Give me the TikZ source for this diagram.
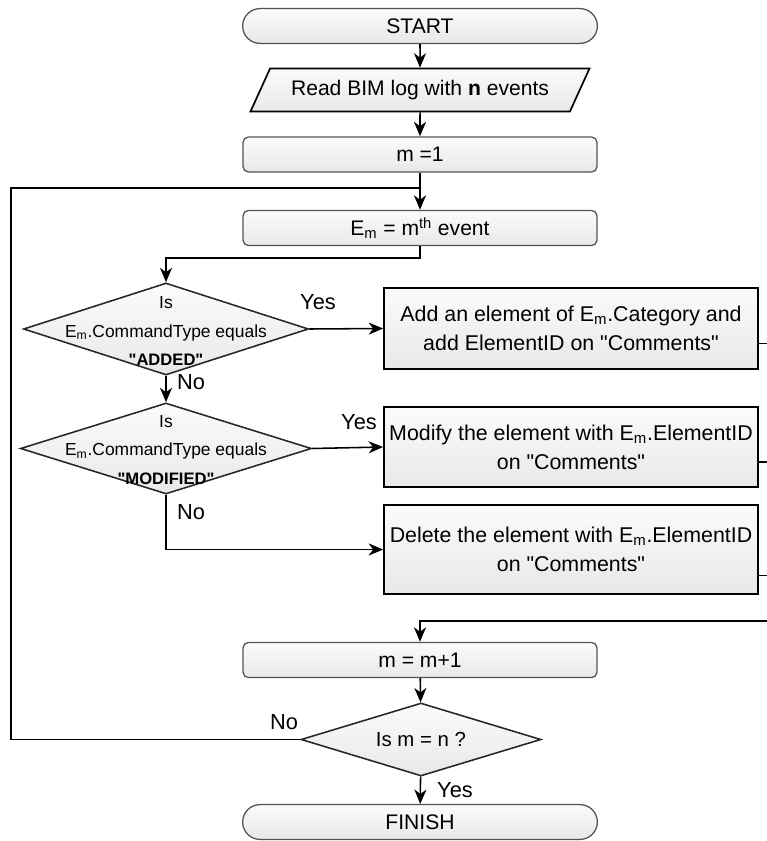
\documentclass[tikz,border=0pt]{standalone}
\usepackage{fontspec}
\setmainfont{Liberation Sans}
\usetikzlibrary{calc, shapes.geometric, shapes.misc, positioning, arrows.meta}
\newcommand{\qt}[1]{\textquotedbl #1\textquotedbl}

\begin{document}
\begin{tikzpicture}[x=0.025cm, y=-0.025cm, line width=1.1pt,
    >={Stealth[length=3.6mm, width=3mm, inset=1.1mm]},
    term/.style={rounded rectangle, draw=gray!65!black, line width=0.9pt,
        top color=gray!3, bottom color=gray!18,
        minimum width=9.1cm, minimum height=0.87cm, font=\fontsize{15}{18}\selectfont},
    proc/.style={rectangle, rounded corners=4pt, draw=gray!65!black, line width=0.9pt,
        top color=gray!3, bottom color=gray!18,
        minimum width=8.85cm, minimum height=0.88cm, font=\fontsize{15}{18}\selectfont},
    act/.style={rectangle, draw=black, line width=1.2pt,
        top color=gray!3, bottom color=gray!18, align=center,
        minimum width=9.35cm, font=\fontsize{15.2}{20.5}\selectfont},
    dec/.style={diamond, draw=black!85, line width=1.1pt, inner sep=0pt,
        top color=gray!3, bottom color=gray!18},
    dectxt/.style={align=center, inner sep=0pt, font=\fontsize{12.4}{20}\selectfont},
    lbl/.style={inner sep=1pt, font=\fontsize{15.5}{18}\selectfont}]
    \useasboundingbox (0,0) rectangle (767,841);

    % 1. Các khối chính
    \node[term] (start) at (420,26) {START};
    \node[trapezium, trapezium left angle=59, trapezium right angle=121,
        trapezium stretches=true, draw=black, line width=1.2pt,
        top color=gray!3, bottom color=gray!18,
        minimum width=8.5cm, minimum height=1.075cm,
        font=\fontsize{15}{18}\selectfont] (read) at (420,90)
        {Read BIM log with \textbf{n} events};
    \node[proc] (m1) at (420,154.5) {m =1};
    \node[proc] (em) at (420,228) {E\textsubscript{m} = m\textsuperscript{th} event};

    % 2. Hai khối điều kiện
    \node[dec, minimum width=7.125cm, minimum height=2.3cm] (d1) at (166,329) {};
    \node[dectxt] (d1t) at (166,331)
        {Is\\E\textsubscript{m}.CommandType equals\\{\fontsize{11.8}{20}\selectfont\bfseries \qt{ADDED}}};
    \node[dec, minimum width=7.275cm, minimum height=2.275cm] (d2) at (166,448.5) {};
    \node[dectxt] (d2t) at (166,450)
        {Is\\E\textsubscript{m}.CommandType equals\\{\fontsize{11.8}{20}\selectfont\bfseries \qt{MODIFIED}}};

    % 3. Các khối xử lý bên phải
    \node[act, minimum height=2.025cm] (a1) at (571,328.5)
        {Add an element of E\textsubscript{m}.Category and\\add ElementID on \qt{Comments}};
    \node[act, minimum height=2cm] (a2) at (571,447)
        {Modify the element with E\textsubscript{m}.ElementID\\on \qt{Comments}};
    \node[act, minimum height=2.225cm] (a3) at (571,549.5)
        {Delete the element with E\textsubscript{m}.ElementID\\on \qt{Comments}};

    % 4. Khối cuối
    \node[proc] (inc) at (420,660) {m = m+1};
    \node[dec, minimum width=6cm, minimum height=1.825cm] (d3) at (421,739.5) {};
    \node[dectxt, font=\fontsize{14.5}{17}\selectfont] (d3t) at (421,739.5) {Is m = n ?};
    \node[term] (fin) at (420,822) {FINISH};

    % 5. Đường nối
    \coordinate (jn) at (m1.south |- 0,188);
    \coordinate (lp) at (11,739.5);
    \coordinate (rt) at (785,621);

    \draw[->] (start) -- (read);
    \draw[->] (read) -- (m1);
    \draw[->] (m1) -- (em);
    \draw[->] (em.south) -- ++(0,12) -| (d1.north);
    \draw[->] (d1.east) -- (a1.west);
    \draw[->] (d1.south) -- (d2.north);
    \draw[->] (d2.east) -- (a2.west);
    \draw[->] (d2.south) |- (a3.west);
    \draw ($(a1.east)+(0,15)$) -| (rt);
    \draw ($(a2.east)+(0,15)$) -- ($(a2.east)+(30,15)$);
    \draw ($(a3.east)+(0,26)$) -- ($(a3.east)+(30,26)$);
    \draw[->] (rt) -| (inc.north);
    \draw[->] (inc) -- (d3);
    \draw[->] (d3) -- (fin);
    \draw (d3.west) -- (lp) |- (jn);

    % 6. Nhãn Yes / No
    \node[lbl] (y1) at (318,302) {Yes};
    \node[lbl] (n1) at (191,382) {No};
    \node[lbl] (y2) at (359,422) {Yes};
    \node[lbl] (n2) at (191,512) {No};
    \node[lbl] (n3) at (284,722) {No};
    \node[lbl] (y3) at (455,790) {Yes};
\end{tikzpicture}
\end{document}
